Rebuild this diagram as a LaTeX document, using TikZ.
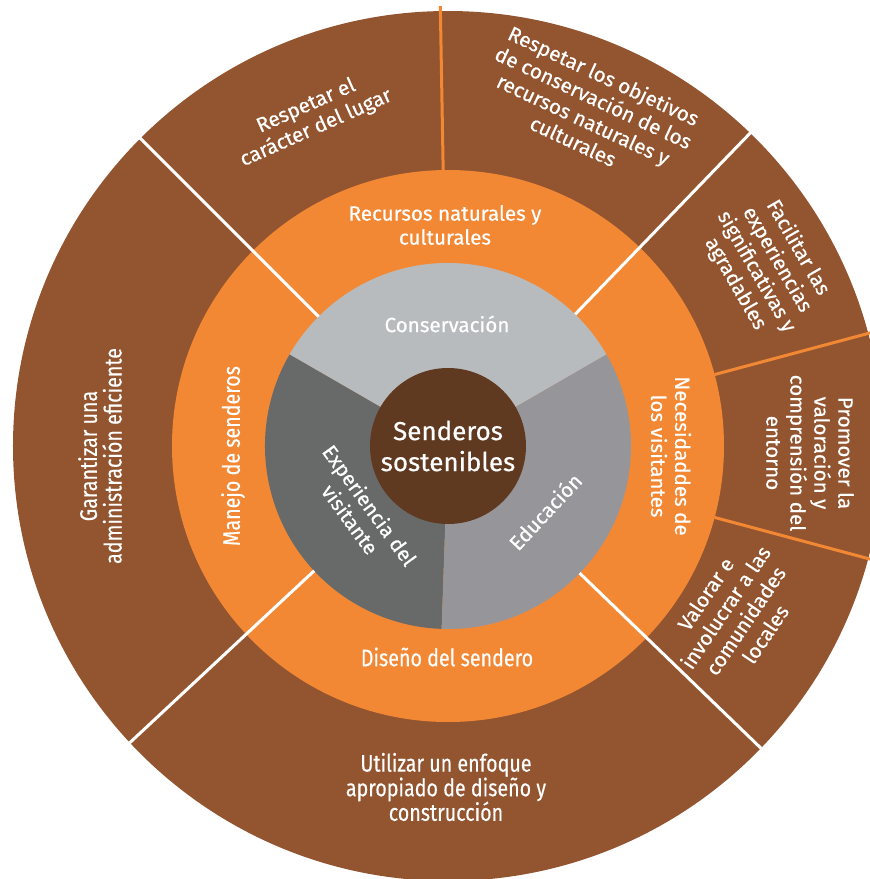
\documentclass[tikz,border=0pt]{standalone}
\usepackage{fontspec}
\setmainfont{Fira Sans}[FakeBold=0.5]
\newfontfamily\narrowfont[FakeStretch=0.82, FakeBold=0.4]{Fira Sans}
\usetikzlibrary{positioning}

\definecolor{outerbrown}{RGB}{147,85,48}
\definecolor{ringorange}{RGB}{243,136,52}
\definecolor{consgrey}{RGB}{184,187,190}
\definecolor{edugrey}{RGB}{150,149,153}
\definecolor{expgrey}{RGB}{104,106,105}
\definecolor{corebrown}{RGB}{95,57,32}

\begin{document}
\begin{tikzpicture}[x=0.5pt, y=0.5pt,
    lbl/.style={text=white, align=center, inner sep=0pt,
        font=\fontsize{10.3}{12}\selectfont},
    narrowlbl/.style={lbl, font=\narrowfont\fontsize{12}{12.3}\selectfont},
    corelbl/.style={lbl, font=\fontsize{13}{15.5}\selectfont},
    whitecut/.style={draw=white, line width=1.5pt},
    orangecut/.style={draw=ringorange, line width=1.5pt}]

    % page frame, the outer ring is cut at the right and bottom
    \useasboundingbox (-448,-433) rectangle (422,446);
    \clip (-448,-433) rectangle (422,446);

    % rings
    \fill[outerbrown] (0,0) circle[radius=435];
    \fill[ringorange] (0,0) circle[radius=276];
    \fill[consgrey] (0,0) -- (30:183) arc[start angle=30, end angle=150, radius=183] -- cycle;
    \fill[expgrey] (0,0) -- (150:183) arc[start angle=150, end angle=268, radius=183] -- cycle;
    \fill[edugrey] (0,0) -- (268:183) arc[start angle=268, end angle=390, radius=183] -- cycle;
    \fill[corebrown] (0,0) circle[radius=78];

    % white cuts through orange and outer ring
    \draw[whitecut] (135:183) -- (135:440);
    \draw[whitecut] (46:183) -- (46:440);
    \draw[whitecut] (223:183) -- (223:440);
    \draw[whitecut] (-44:183) -- (-44:440);

    % orange cuts in outer ring only
    \draw[orangecut] (91:276) -- (91:440);
    \draw[orangecut] (15:276) -- (15:440);
    \draw[orangecut] (-15:276) -- (-15:440);

    % core and inner ring
    \node[corelbl] (core) at (0,0) {Senderos\\sostenibles};
    \node[lbl] (cons) at (-1,122) {Conservación};
    \node[lbl, rotate=47] (edu) at (-34:117) {Educación};
    \node[lbl, rotate=-54] (exper) at (217:110) {Experiencia del\\visitante};

    % orange ring
    \node[lbl] (recursos) at (-3,221) {Recursos naturales y\\culturales};
    \node[narrowlbl, rotate=90] (manejo) at (-215,-10) {Manejo de senderos};
    \node[lbl, rotate=-90] (necesidades) at (223,-10) {Necesidaddes de\\los visitantes};
    \node[narrowlbl] (diseno) at (-1,-211) {Diseño del sendero};

    % outer ring
    \node[lbl, rotate=24] (caracter) at (112.6:356) {Respetar el\\carácter del lugar};
    \node[lbl, rotate=-25] (objetivos) at (67.4:366) {Respetar los objetivos\\de conservación de los\\recursos naturales y\\culturales};
    \node[lbl, rotate=-60] (facilitar) at (29.5:366) {Facilitar las\\experiencias\\significativas y\\agradables};
    \node[lbl, rotate=-90] (promover) at (362,-7) {Promover la\\valoración y\\comprensión del\\entorno};
    \node[lbl, rotate=56] (valorar) at (-30.3:333) {Valorar e\\involucrar a las\\comunidades\\locales};
    \node[narrowlbl, rotate=90] (garantizar) at (-348,-10) {Garantizar una\\administración eficiente};
    \node[narrowlbl] (utilizar) at (-2,-341) {Utilizar un enfoque\\apropiado de diseño y\\construcción};
\end{tikzpicture}
\end{document}
